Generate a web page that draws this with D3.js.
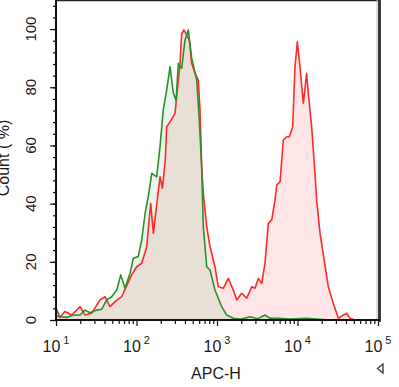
<!DOCTYPE html>
<html lang="en">
  <head>
    <meta charset="utf-8">
    <title>APC-H histogram overlay</title>
    <script type="text/javascript" src="https://cdn.jsdelivr.net/npm/d3@7"></script>
    <style type="text/css">
      body { margin: 0; background: #fff; }
      text { font-family: Arial, "Liberation Sans", sans-serif; fill: #1a1a1a; }
    </style>
  </head>
  <body>
    <script type="text/javascript">

      //Width and height
      var w = 399;
      var h = 387;

      //Control histogram (green): APC-H value, Count (% of max)
      var greenX = [10, 11.2, 13.6, 16.4, 19.9, 22.9, 26.4, 32, 37, 42.7,
                    49.2, 56.8, 63.7, 72, 83, 91.3, 105, 116, 128, 140,
                    155, 178, 196, 215, 237, 261, 287, 310, 331, 364,
                    400, 440, 485, 560, 603, 645, 676, 745, 819, 944,
                    1143, 1318, 1593, 2000, 2570, 3200, 3945, 4550, 5725, 8000,
                    13000, 25000];
      var greenY = [4.0, 1.1, 0.9, 1.7, 1.7, 3.4, 2.5, 3.4, 3.7, 6.9,
                    8.0, 10.3, 15.5, 10.9, 16.0, 21.2, 21.8, 27.5, 36.7, 42.4,
                    50.4, 49.2, 59.6, 72.2, 79.0, 87.0, 78.0, 75.5, 88.2, 86.5,
                    96.2, 99.7, 90.0, 82.5, 68.7, 52.7, 32.1, 18.3, 17.2, 10.3,
                    4.6, 1.7, 0.6, 0.3, 1.1, 0.4, 1.7, 0.6, 0.6, 0.3,
                    0.6, 0];

      //Stained sample histogram (red)
      var redX = [10, 11.2, 12.9, 15.7, 19.9, 22.9, 27.7, 35.2, 40.6, 46.9,
                  54.1, 65.5, 72, 87.1, 100.5, 116, 134, 150, 162, 175,
                  196, 210, 228, 237, 261, 301, 321, 347, 364, 389,
                  421, 453, 485, 533, 586, 615, 645, 676, 745, 819,
                  944, 1038, 1197, 1381, 1593, 1758, 2029, 2340, 2700, 2965,
                  3260, 3590, 3945, 4335, 4786, 5250, 5520, 6070, 6670, 7345,
                  7910, 8710, 9310, 9950, 10740, 11800, 13000, 13600, 15000, 16480,
                  17300, 19050, 24150, 27870, 32150, 37070, 40800, 44900, 51750];
      var redY = [1.7, 0.9, 2.9, 1.7, 4.6, 1.7, 2.3, 6.9, 8.0, 4.6,
                  6.3, 8.0, 10.5, 15.5, 18.3, 19.5, 25.2, 40.1, 29.8, 37.8,
                  49.2, 45.3, 55.0, 66.4, 68.1, 71.0, 79.0, 88.2, 98.5, 99.7,
                  97.9, 96.2, 88.2, 84.8, 82.5, 72.2, 52.7, 43.5, 32.1, 25.2,
                  18.3, 11.4, 10.9, 14.3, 10.3, 6.9, 9.2, 7.5, 11.4, 10.9,
                  14.3, 12.6, 19.5, 33.2, 34.4, 41.2, 46.4, 47.5, 61.9, 63.0,
                  63.0, 66.4, 87.0, 95.6, 87.0, 74.5, 84.8, 77.9, 66.4, 50.4,
                  41.2, 29.8, 11.4, 5.7, 0.6, 1.7, 2.3, 0.6, 0];

      //Axis ticks
      var xDecades = [1, 2, 3, 4, 5];
      var yMajor = [0, 20, 40, 60, 80, 100];
      var yMinor = d3.range(0, 109, 4);

      //Scales
      var x = d3.scaleLog().domain([10, 1e5]).range([56, 378]);
      var y = d3.scaleLinear().domain([0, 110]).range([320, 0]);

      var svg = d3.select("body")
                  .append("svg")
                  .attr("width", w)
                  .attr("height", h);

      function toPoints(xs, ys) {
        return xs.map(function(v, i) { return [v, ys[i]]; });
      }

      var red = toPoints(redX, redY);
      var green = toPoints(greenX, greenY);

      var area = d3.area()
                   .x(function(d) { return x(d[0]); })
                   .y0(y(0))
                   .y1(function(d) { return y(d[1]); });

      var line = d3.line()
                   .x(function(d) { return x(d[0]); })
                   .y(function(d) { return y(d[1]); });

      //Fills: pink for red, pale green for green, overlap comes out beige
      svg.append("path")
         .datum(red)
         .attr("d", area)
         .style("fill", "rgba(255,0,0,0.1)");

      svg.append("path")
         .datum(green)
         .attr("d", area)
         .style("fill", "rgba(140,200,160,0.2)");

      svg.append("path")
         .datum(red)
         .attr("d", line)
         .style("fill", "none")
         .style("stroke", "#ff2a2a")
         .style("stroke-width", 1.6)
         .style("stroke-linejoin", "round");

      svg.append("path")
         .datum(green)
         .attr("d", line)
         .style("fill", "none")
         .style("stroke", "#2a912a")
         .style("stroke-width", 1.6)
         .style("stroke-linejoin", "round");

      //X ticks: minor 2..9 per decade, major at decades
      var xMinor = [];
      xDecades.slice(0, 4).forEach(function(d) {
        for (var k = 2; k <= 9; k++) xMinor.push(k * Math.pow(10, d));
      });

      var xMinorAxis = svg.append("g")
         .attr("transform", "translate(0,320)")
         .call(d3.axisBottom(x).tickValues(xMinor).tickSize(4).tickFormat(""));
      var xMajorAxis = svg.append("g")
         .attr("transform", "translate(0,320)")
         .call(d3.axisBottom(x).tickValues(xDecades.map(function(d) { return Math.pow(10, d); }))
                               .tickSize(6).tickFormat(""));

      var yMinorAxis = svg.append("g")
         .attr("transform", "translate(56,0)")
         .call(d3.axisLeft(y).tickValues(yMinor).tickSize(3).tickFormat(""));
      var yMajorAxis = svg.append("g")
         .attr("transform", "translate(56,0)")
         .call(d3.axisLeft(y).tickValues(yMajor).tickSize(6).tickFormat(""));

      [xMinorAxis, xMajorAxis, yMinorAxis, yMajorAxis].forEach(function(g) {
        g.select(".domain").remove();
        g.selectAll("line").style("stroke", "#111").style("stroke-width", 1.2);
      });

      //Frame
      svg.append("line")
         .attr("x1", 56).attr("x2", 381).attr("y1", 0.5).attr("y2", 0.5)
         .style("stroke", "#222").style("stroke-width", 1.5);
      svg.append("line")
         .attr("x1", 379.5).attr("x2", 379.5).attr("y1", 0).attr("y2", 322)
         .style("stroke", "#3a3a3a").style("stroke-width", 3);
      svg.append("line")
         .attr("x1", 377).attr("x2", 377).attr("y1", 0).attr("y2", 320)
         .style("stroke", "#bbb").style("stroke-width", 1);
      svg.append("line")
         .attr("x1", 56).attr("x2", 56).attr("y1", 0).attr("y2", 321)
         .style("stroke", "#111").style("stroke-width", 2);
      svg.append("line")
         .attr("x1", 55).attr("x2", 380).attr("y1", 320).attr("y2", 320)
         .style("stroke", "#111").style("stroke-width", 2);

      //X tick labels 10^n
      var xLabels = svg.selectAll(".xlab")
         .data(xDecades)
         .enter()
         .append("text")
         .attr("class", "xlab")
         .attr("x", function(d) { return x(Math.pow(10, d)); })
         .attr("y", 352)
         .attr("text-anchor", "middle")
         .style("font-size", "16px");
      xLabels.append("tspan").text("10");
      xLabels.append("tspan")
         .attr("dx", 3)
         .attr("dy", -8)
         .style("font-size", "11px")
         .text(function(d) { return d; });

      //Y tick labels, rotated
      svg.selectAll(".ylab")
         .data(yMajor)
         .enter()
         .append("text")
         .attr("class", "ylab")
         .attr("transform", function(d) { return "translate(36," + y(d) + ") rotate(-90)"; })
         .attr("text-anchor", "middle")
         .style("font-size", "15px")
         .text(function(d) { return d; });

      //Axis titles
      svg.append("text")
         .attr("x", 216)
         .attr("y", 379)
         .attr("text-anchor", "middle")
         .style("font-size", "16px")
         .text("APC-H");

      svg.append("text")
         .attr("transform", "translate(9,158) rotate(-90)")
         .attr("text-anchor", "middle")
         .style("font-size", "16px")
         .text("Count ( %)");

      //Small menu arrow at lower right
      svg.append("path")
         .attr("d", "M383,364 L377.5,368.5 L383,373 Z")
         .style("fill", "none")
         .style("stroke", "#444")
         .style("stroke-width", 1.4);

    </script>
  </body>
</html>
